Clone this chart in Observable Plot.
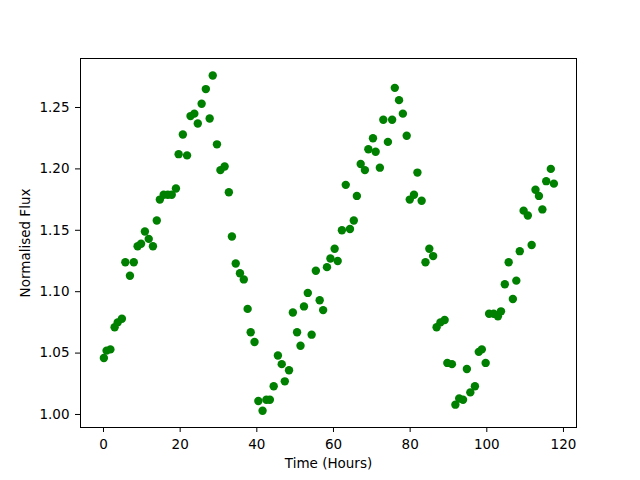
<!DOCTYPE html>
<html>
<head>
<meta charset="utf-8">
<script src="https://cdn.jsdelivr.net/npm/d3@7"></script>
<script src="https://cdn.jsdelivr.net/npm/@observablehq/plot@0.6"></script>
<style>
  body { margin: 0; background: #fff; }
</style>
</head>
<body>
<div id="chart"></div>
<script>
const hours = [0.1, 0.8, 1.8, 2.9, 3.7, 4.8, 5.7, 6.9, 7.9, 8.9, 9.8, 10.8, 11.8, 12.9, 13.9, 14.7, 15.7, 16.8, 17.8, 18.9,
  19.6, 20.7, 21.8, 22.7, 23.7, 24.6, 25.6, 26.7, 27.7, 28.5, 29.6, 30.5, 31.6, 32.7, 33.5, 34.5, 35.6, 36.6, 37.6, 38.4,
  39.4, 40.4, 41.5, 42.5, 43.4, 44.4, 45.5, 46.5, 47.3, 48.4, 49.4, 50.5, 51.4, 52.3, 53.3, 54.3, 55.4, 56.4, 57.3, 58.3,
  59.2, 60.3, 61.1, 62.2, 63.2, 64.3, 65.3, 66.1, 67.1, 68.2, 69.1, 70.3, 71.0, 72.1, 73.0, 74.2, 75.3, 76.0, 77.1, 78.1,
  79.1, 79.9, 81.0, 81.9, 83.0, 84.0, 85.0, 86.0, 86.9, 87.9, 89.0, 89.7, 90.9, 91.8, 92.8, 93.8, 94.8, 95.7, 96.9, 97.9,
  98.7, 99.7, 100.6, 101.8, 102.9, 103.7, 104.7, 105.7, 106.8, 107.7, 108.6, 109.6, 110.7, 111.7, 112.7, 113.6, 114.5, 115.5, 116.7, 117.5];
const flux = [1.046, 1.052, 1.053, 1.071, 1.075, 1.078, 1.124, 1.113, 1.124, 1.137, 1.139, 1.149, 1.143, 1.137, 1.158, 1.175, 1.179, 1.179, 1.179, 1.184,
  1.212, 1.228, 1.211, 1.243, 1.245, 1.237, 1.253, 1.265, 1.241, 1.276, 1.220, 1.199, 1.202, 1.181, 1.145, 1.123, 1.115, 1.110, 1.086, 1.067,
  1.059, 1.011, 1.003, 1.012, 1.012, 1.023, 1.048, 1.041, 1.027, 1.036, 1.083, 1.067, 1.056, 1.088, 1.099, 1.065, 1.117, 1.093, 1.085, 1.120,
  1.127, 1.135, 1.125, 1.150, 1.187, 1.151, 1.158, 1.178, 1.204, 1.199, 1.216, 1.225, 1.214, 1.201, 1.240, 1.222, 1.240, 1.266, 1.256, 1.245,
  1.227, 1.175, 1.179, 1.197, 1.174, 1.124, 1.135, 1.129, 1.071, 1.075, 1.077, 1.042, 1.041, 1.008, 1.013, 1.012, 1.037, 1.018, 1.023, 1.051,
  1.053, 1.042, 1.082, 1.082, 1.080, 1.084, 1.106, 1.124, 1.094, 1.109, 1.133, 1.166, 1.162, 1.138, 1.183, 1.178, 1.167, 1.190, 1.200, 1.188];
const xTicks = [0, 20, 40, 60, 80, 100, 120];
const yTicks = [1.00, 1.05, 1.10, 1.15, 1.20, 1.25];

const data = hours.map((h, i) => ({hour: h, flux: flux[i]}));

const chart = Plot.plot({
  width: 640,
  height: 480,
  marginLeft: 80,
  marginRight: 64,
  marginTop: 58,
  marginBottom: 53,
  style: {fontFamily: "DejaVu Sans", fontSize: "13.5px", color: "#000", background: "#fff"},
  x: {domain: [-6, 123.4]},
  y: {domain: [0.9894, 1.2899]},
  marks: [
    Plot.dot(data, {x: "hour", y: "flux", r: 4.2, fill: "#008000", stroke: "none"}),
    Plot.frame({stroke: "#000", strokeWidth: 1}),
    Plot.axisX({ticks: xTicks, tickSize: 5, tickPadding: 7, tickFormat: d3.format("d"),
      label: "Time (Hours)", labelAnchor: "center", labelArrow: "none", labelOffset: 40}),
    Plot.axisY({ticks: yTicks, tickSize: 5, tickPadding: 6, tickFormat: d3.format(".2f"),
      label: "Normalised Flux", labelAnchor: "center", labelArrow: "none", labelOffset: 60})
  ]
});
document.getElementById("chart").appendChild(chart);
</script>
</body>
</html>
